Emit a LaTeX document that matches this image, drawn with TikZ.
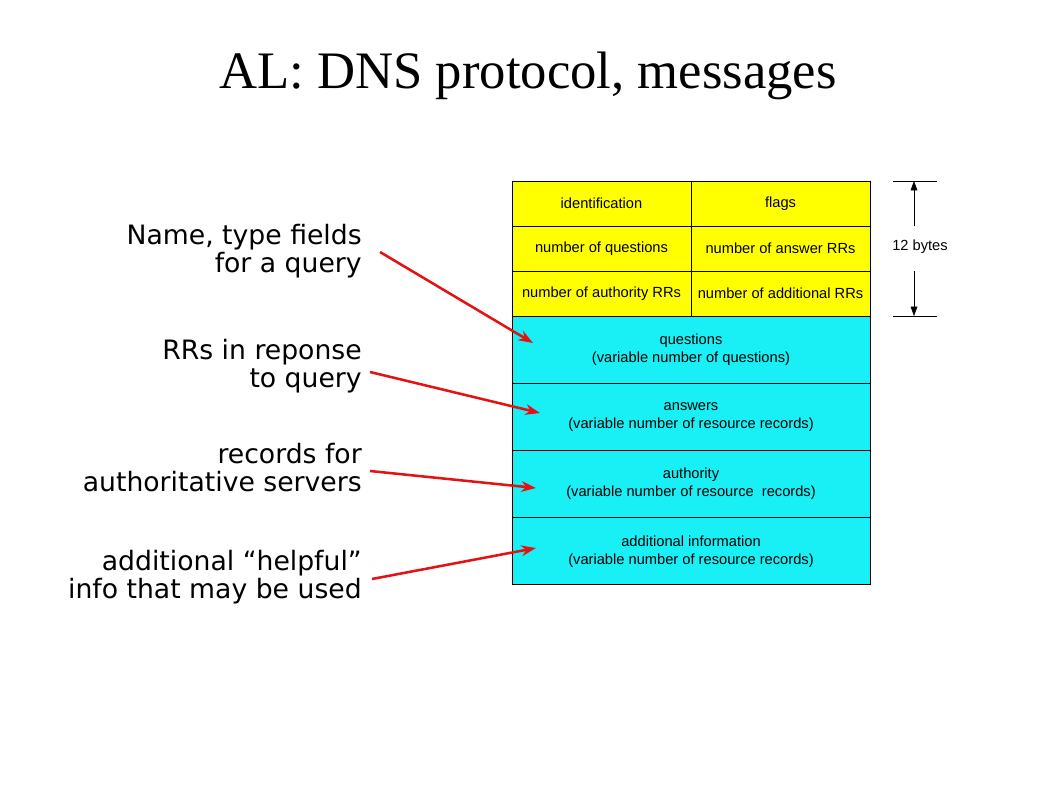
\documentclass[tikz,border=0pt]{standalone}
\usepackage{fontspec}
\setmainfont{Liberation Serif}
\newfontfamily\tablefont{Liberation Sans}
\newfontfamily\notefont{DejaVu Sans}
\usetikzlibrary{arrows.meta, positioning, calc}
\definecolor{hdryellow}{RGB}{255,255,0}
\definecolor{rrcyan}{RGB}{24,240,246}
\definecolor{notered}{RGB}{228,18,18}

\begin{document}
\begin{tikzpicture}[x=0.75pt, y=-0.75pt,
	field/.style={draw, line width=0.75pt, inner sep=0pt, outer sep=0pt, align=center,
		font=\tablefont\fontsize{11}{13.5}\selectfont},
	hdrcell/.style={field, fill=hdryellow, minimum width=134.25pt, minimum height=33.75pt},
	rrrow/.style={field, fill=rrcyan, minimum width=268.5pt, minimum height=50.4pt},
	note/.style={align=right, anchor=east, inner sep=0pt, font=\notefont\fontsize{20}{21}\selectfont},
	pointer/.style={draw=notered, line width=1.9pt, -{Stealth[length=11pt, width=8pt]}}]
	\useasboundingbox (0,0) rectangle (1058,793);
	\node[font=\fontsize{39.5}{44}\selectfont] (title) at (528,76) {AL: DNS protocol, messages};
	% header, 12 bytes
	\node[hdrcell, anchor=north west] (ident) at (512,181) {identification};
	\node[hdrcell, right=0pt of ident] (flags) {flags};
	\node[hdrcell, below=0pt of ident] (nquest) {number of questions};
	\node[hdrcell, below=0pt of flags] (nans) {number of answer RRs};
	\node[hdrcell, below=0pt of nquest] (nauth) {number of authority RRs};
	\node[hdrcell, below=0pt of nans] (naddl) {number of additional RRs};
	% resource record sections
	\node[rrrow, anchor=north west] (questions) at (nauth.south west) {questions\\(variable number of questions)};
	\node[rrrow, below=0pt of questions] (answers) {answers\\(variable number of resource records)};
	\node[rrrow, below=0pt of answers] (authority) {authority\\(variable number of resource\ \ records)};
	\node[rrrow, below=0pt of authority] (additional) {additional information\\(variable number of resource records)};
	% size marker
	\coordinate (sizetop) at (914,181);
	\coordinate (sizebot) at (914,316);
	\coordinate (sizeup) at (914,226);
	\coordinate (sizedown) at (914,271);
	\node[font=\tablefont\fontsize{11}{13}\selectfont, inner sep=0pt] (bytes) at (920,247) {12 bytes};
	\draw (sizetop) ++(-21,0) -- ++(44,0);
	\draw (sizebot) ++(-21,0) -- ++(44,0);
	\draw[-{Triangle[length=7pt, width=5pt]}] (sizeup) -- (sizetop);
	\draw[-{Triangle[length=7pt, width=5pt]}] (sizedown) -- (sizebot);
	% notes
	\node[note] (nameq) at (362,251) {Name, type fields\\for a query};
	\node[note] (rrans) at (362,366) {RRs in reponse\\to query};
	\node[note] (rrauth) at (362,468) {records for\\authoritative servers};
	\node[note] (rraddl) at (362,577) {additional “helpful”\\info that may be used};
	\coordinate (qtip) at (533,343);
	\coordinate (atip) at (540,413);
	\coordinate (ntip) at (536,488);
	\coordinate (dtip) at (536,548);
	\draw[pointer] ($(nameq.east)+(18,1)$) -- (qtip);
	\draw[pointer] ($(rrans.east)+(8,6)$) -- (atip);
	\draw[pointer] ($(rrauth.east)+(8,3)$) -- (ntip);
	\draw[pointer] ($(rraddl.east)+(10,2)$) -- (dtip);
\end{tikzpicture}
\end{document}
